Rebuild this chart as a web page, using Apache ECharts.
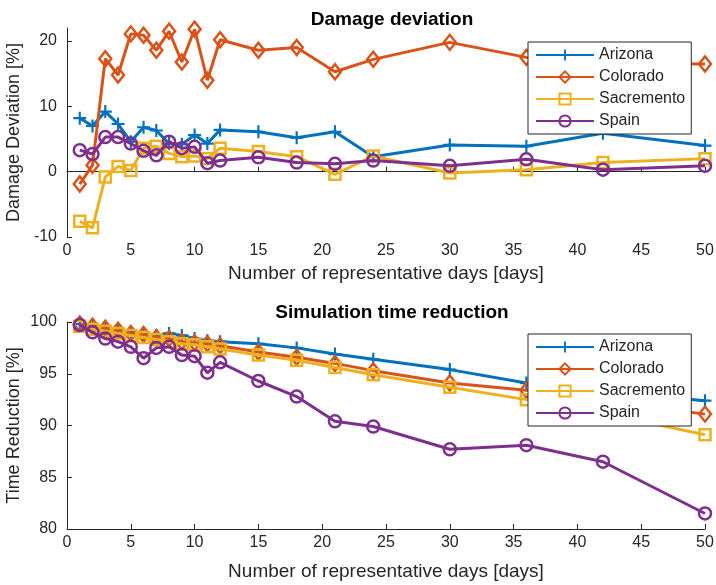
<!DOCTYPE html>
<html>
<head>
<meta charset="utf-8">
<script src="https://cdn.jsdelivr.net/npm/echarts@6/dist/echarts.min.js"></script>
<style>
  html, body { margin: 0; padding: 0; background: #fff; }
  #chart { width: 716px; height: 585px; }
</style>
</head>
<body>
<div id="chart"></div>
<script>
// representative days
var days = [1, 2, 3, 4, 5, 6, 7, 8, 9, 10, 11, 12, 15, 18, 21, 24, 30, 36, 42, 50];

// damage deviation [%]
var dmgArizona   = [8.2, 7.0, 9.2, 7.3, 4.6, 6.8, 6.3, 4.3, 4.2, 5.6, 4.3, 6.4, 6.1, 5.2, 6.1, 2.3, 4.1, 3.9, 5.9, 4.0];
var dmgColorado  = [-1.9, 1.0, 17.3, 14.8, 21.1, 20.9, 18.6, 21.5, 16.8, 21.8, 14.0, 20.2, 18.6, 19.0, 15.3, 17.2, 19.8, 17.5, 16.6, 16.5];
var dmgSacremento = [-7.6, -8.6, -0.8, 0.8, 0.2, 3.6, 3.9, 2.8, 2.3, 2.4, 2.0, 3.6, 3.1, 2.3, -0.4, 2.4, -0.2, 0.3, 1.4, 2.0];
var dmgSpain     = [3.3, 2.7, 5.3, 5.3, 4.3, 3.2, 2.5, 4.6, 3.6, 3.8, 1.3, 1.7, 2.2, 1.4, 1.2, 1.7, 0.9, 1.9, 0.3, 0.9];

// time reduction [%]
var trArizona    = [99.8, 99.6, 99.4, 99.2, 99.0, 98.9, 98.7, 98.9, 98.7, 98.4, 98.2, 98.1, 97.9, 97.5, 96.9, 96.4, 95.4, 94.1, 93.3, 92.4];
var trColorado   = [99.8, 99.6, 99.4, 99.2, 98.9, 98.8, 98.5, 98.4, 98.1, 98.0, 97.9, 97.7, 97.1, 96.6, 96.0, 95.3, 94.1, 93.4, 92.4, 91.1];
var trSacremento = [99.6, 99.3, 99.1, 98.9, 98.7, 98.5, 98.3, 98.1, 97.9, 97.8, 97.6, 97.4, 96.8, 96.3, 95.6, 94.9, 93.7, 92.5, 91.2, 89.1];
var trSpain      = [99.7, 99.0, 98.4, 98.1, 97.6, 96.5, 97.5, 97.6, 96.8, 96.7, 95.1, 96.1, 94.3, 92.8, 90.4, 89.9, 87.7, 88.1, 86.5, 81.5];

var names = ['Arizona', 'Colorado', 'Sacremento', 'Spain'];
var colors = ['#0072BD', '#D95319', '#EDB120', '#7E2F8E'];
var yTicksTop = [-10, 0, 10, 20];
var yTicksBot = [80, 85, 90, 95, 100];

var plusPath = 'path://M5,0H7V5H12V7H7V12H5V7H0V5H5Z';
var symbols = [plusPath, 'diamond', 'rect', 'circle'];
var sizes = [[13, 13], [12, 15], [11, 11], [12, 12]];

var txt = '#262626';
var fnt = 'Liberation Sans';

function pairs(arr) {
  var out = [];
  for (var i = 0; i < days.length; i++) {
    out.push([days[i], arr[i]]);
  }
  return out;
}

function mkSeries(k, vals, idx) {
  var filled = k == 0;
  return {
    name: names[k],
    type: 'line',
    xAxisIndex: idx,
    yAxisIndex: idx,
    data: pairs(vals),
    symbol: symbols[k],
    symbolSize: sizes[k],
    showAllSymbol: true,
    lineStyle: { color: colors[k], width: 3 },
    itemStyle: filled
      ? { color: colors[k], borderWidth: 0 }
      : { color: 'rgba(255,255,255,0)', borderColor: colors[k], borderWidth: 2.5 },
    emphasis: { disabled: true },
    z: 2 + k
  };
}

function xAx(idx, gap) {
  return {
    type: 'value', gridIndex: idx, min: 0, max: 50, interval: 5,
    name: 'Number of representative days [days]',
    nameLocation: 'middle', nameGap: gap, nameMoveOverlap: false,
    nameTextStyle: { color: txt, fontSize: 19, fontFamily: fnt },
    axisLine: { lineStyle: { color: txt, width: 1 } },
    axisTick: { inside: true, length: 5, lineStyle: { color: txt } },
    axisLabel: { color: txt, fontSize: 16, fontFamily: fnt, margin: 6 },
    splitLine: { show: false }
  };
}

function yAx(idx, min, max, ticks, nm) {
  return {
    type: 'value', gridIndex: idx, min: min, max: max,
    name: nm, nameLocation: 'middle', nameGap: 44, nameMoveOverlap: false,
    nameTextStyle: { color: txt, fontSize: 18, fontFamily: fnt },
    axisLine: { show: true, onZero: false, lineStyle: { color: txt, width: 1 } },
    axisTick: { show: true, inside: true, length: 5, customValues: ticks, lineStyle: { color: txt } },
    axisLabel: { color: txt, fontSize: 16, fontFamily: fnt, margin: 10, customValues: ticks },
    splitLine: { show: false }
  };
}

function lgd(top) {
  return {
    orient: 'vertical',
    left: 528, top: top,
    z: 20,
    data: names,
    itemWidth: 58, itemHeight: 14, itemGap: 6,
    padding: [5, 6, 5, 7],
    backgroundColor: '#fff',
    borderColor: txt, borderWidth: 1,
    textStyle: { color: txt, fontSize: 16, lineHeight: 14, fontFamily: fnt },
    selectedMode: false
  };
}

var series = [];
var topVals = [dmgArizona, dmgColorado, dmgSacremento, dmgSpain];
var botVals = [trArizona, trColorado, trSacremento, trSpain];
for (var k = 0; k < 4; k++) series.push(mkSeries(k, topVals[k], 0));
for (var k = 0; k < 4; k++) series.push(mkSeries(k, botVals[k], 1));

var myChart = echarts.init(document.getElementById('chart'), null, { renderer: 'canvas' });
myChart.setOption({
  animation: false,
  backgroundColor: '#fff',
  title: [
    { text: 'Damage deviation', left: 387, top: 5, textAlign: 'center',
      textStyle: { color: '#000', fontSize: 19, fontWeight: 'bold', fontFamily: fnt } },
    { text: 'Simulation time reduction', left: 387, top: 298, textAlign: 'center',
      textStyle: { color: '#000', fontSize: 19, fontWeight: 'bold', fontFamily: fnt } }
  ],
  legend: [lgd(42), lgd(334)],
  grid: [
    { left: 67, right: 11, top: 28, bottom: 348, outerBoundsMode: 'none' },
    { left: 67, right: 11, top: 322, bottom: 56, outerBoundsMode: 'none' }
  ],
  xAxis: [xAx(0, 27), xAx(1, 33)],
  yAxis: [
    yAx(0, -10, 22, yTicksTop, 'Damage Deviation [%]'),
    yAx(1, 80, 100, yTicksBot, 'Time Reduction [%]')
  ],
  series: series
});
</script>
</body>
</html>
